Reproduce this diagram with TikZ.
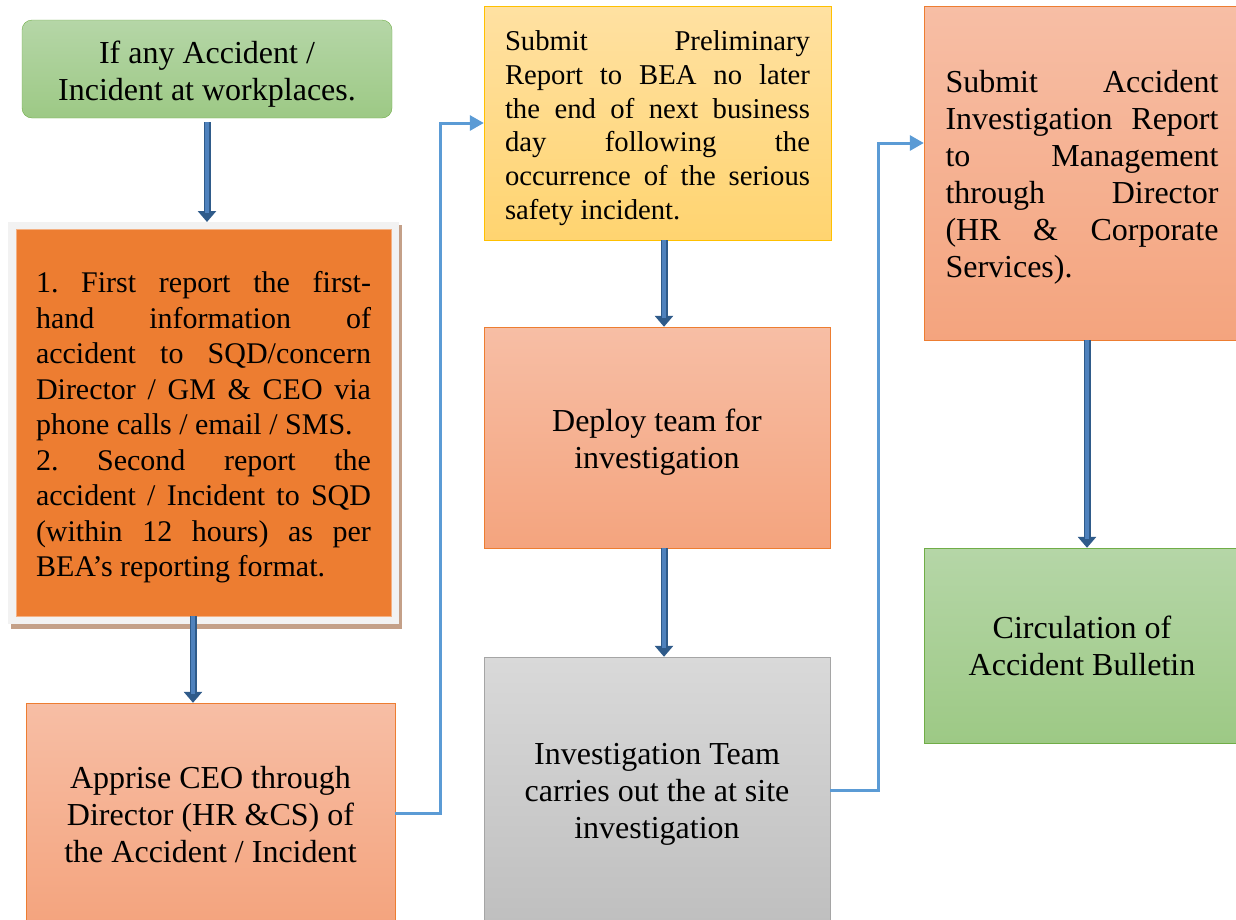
\documentclass[tikz,border=0pt]{standalone}
\usepackage{fontspec}
\setmainfont{Liberation Serif}
\usepackage{xcolor}
\usetikzlibrary{arrows.meta}
\frenchspacing
\newcommand{\topgap}[1]{\rule{0pt}{#1}}

\definecolor{greenline}{HTML}{70AD47}
\definecolor{greentop}{HTML}{B5D6A7}
\definecolor{greenbot}{HTML}{9DC985}
\definecolor{salmonline}{HTML}{ED7D31}
\definecolor{salmontop}{HTML}{F7BEA5}
\definecolor{salmonbot}{HTML}{F4A47E}
\definecolor{orangefill}{HTML}{ED7D31}
\definecolor{orangeline}{HTML}{F4B183}
\definecolor{yellowline}{HTML}{FFC000}
\definecolor{yellowtop}{HTML}{FFE1A2}
\definecolor{yellowbot}{HTML}{FFD470}
\definecolor{grayline}{HTML}{A5A5A5}
\definecolor{graytop}{HTML}{D9D9D9}
\definecolor{graybot}{HTML}{BFBFBF}
\definecolor{framegray}{HTML}{F2F2F2}
\definecolor{shadowtan}{HTML}{C4A088}
\definecolor{arrowdark}{HTML}{2F5B8A}
\definecolor{arrowfill}{HTML}{4F82BD}
\definecolor{linkblue}{HTML}{5B9BD5}

\begin{document}
\begin{tikzpicture}[x=1pt,y=-1pt]
            \tikzstyle{every node}+=[inner sep=0pt]
            \tikzstyle{big}=[font=\fontsize{32}{37}\selectfont, align=center]
            \tikzstyle{greenbox}=[draw=greenline, top color=greentop, bottom color=greenbot, big]
            \tikzstyle{salmonbox}=[draw=salmonline, top color=salmontop, bottom color=salmonbot, big]
            \tikzstyle{graybox}=[draw=grayline, top color=graytop, bottom color=graybot, big]
            \tikzstyle{down}=[draw=arrowdark, line width=7pt, -{Triangle[length=11pt,width=18pt]},
              postaction={draw=arrowfill, line width=3.5pt, -, shorten >=9pt}]
            \tikzstyle{elbow}=[draw=linkblue, line width=3pt, -{Triangle[length=14pt,width=15pt]}]
            \useasboundingbox (0,0) rectangle (1236,919);
            \clip (0,0) rectangle (1236,919);
            % left column
            \node[greenbox, rounded corners=10pt, minimum width=370pt, minimum height=98pt] (accident) at (207,69)
              {\topgap{32pt}If any Accident /\\Incident at workplaces.};
            \fill[shadowtan] (11,225) rectangle (402,629);
            \fill[framegray] (8,222) rectangle (399,624);
            \coordinate (firsttop) at (203.5,222);
            \node[draw=orangeline, fill=orangefill, minimum width=375pt, minimum height=387pt,
              text width=335pt, align=justify, font=\fontsize{30}{35.5}\selectfont] (first) at (203.5,422.5)
              {\topgap{31pt}1. First report the first-\linebreak hand information of\linebreak accident to SQD/concern\linebreak
               Director / GM \& CEO via\linebreak phone calls / email / SMS.\par
               2. Second report the\linebreak accident / Incident to SQD\linebreak (within 12 hours) as per\linebreak
               BEA’s reporting format.};
            \node[salmonbox, minimum width=369pt, minimum height=220pt] (apprise) at (210.5,813)
              {\topgap{26pt}Apprise CEO through\\Director (HR \&CS) of\\the Accident / Incident};
            % middle column
            \node[draw=yellowline, top color=yellowtop, bottom color=yellowbot, minimum width=347pt, minimum height=234pt,
              text width=305pt, align=justify, font=\fontsize{28.7}{33.7}\selectfont] (prelim) at (657.5,123)
              {\topgap{30pt}Submit Preliminary\linebreak Report to BEA no later\linebreak the end of next business\linebreak
               day following the\linebreak occurrence of the serious\linebreak safety incident.};
            \node[salmonbox, minimum width=346pt, minimum height=221pt] (deploy) at (657,437.5)
              {\topgap{32pt}Deploy team for\\investigation};
            \node[graybox, minimum width=346pt, minimum height=266pt] (team) at (657,790)
              {\topgap{30pt}Investigation Team\\carries out the at site\\investigation};
            % right column
            \node[salmonbox, minimum width=316pt, minimum height=334pt,
              text width=273pt, align=justify] (submit) at (1082,173)
              {\topgap{30pt}Submit Accident\linebreak Investigation Report\linebreak to Management\linebreak
               through Director\linebreak (HR \& Corporate\linebreak Services).};
            \node[greenbox, minimum width=316pt, minimum height=195pt] (bulletin) at (1082,645.5)
              {\topgap{24pt}Circulation of\\Accident Bulletin};
            % arrows
            \draw[down] ([yshift=-4pt]accident.south) -- (accident.south |- firsttop);
            \draw[down] ([xshift=-10.5pt]first.south) -- ([xshift=-17.5pt]apprise.north);
            \draw[down] ([xshift=6.5pt]prelim.south) -- ([xshift=7pt]deploy.north);
            \draw[down] ([xshift=7pt]deploy.south) -- ([xshift=7pt]team.north);
            \draw[down] ([xshift=5pt]submit.south) -- ([xshift=5pt]bulletin.north);
            \draw[elbow] (apprise.east) -- ++(45,0) |- (prelim.west);
            \draw[elbow] (team.east) -- ++(48,0) |- ([yshift=30pt]submit.west);
\end{tikzpicture}
\end{document}
